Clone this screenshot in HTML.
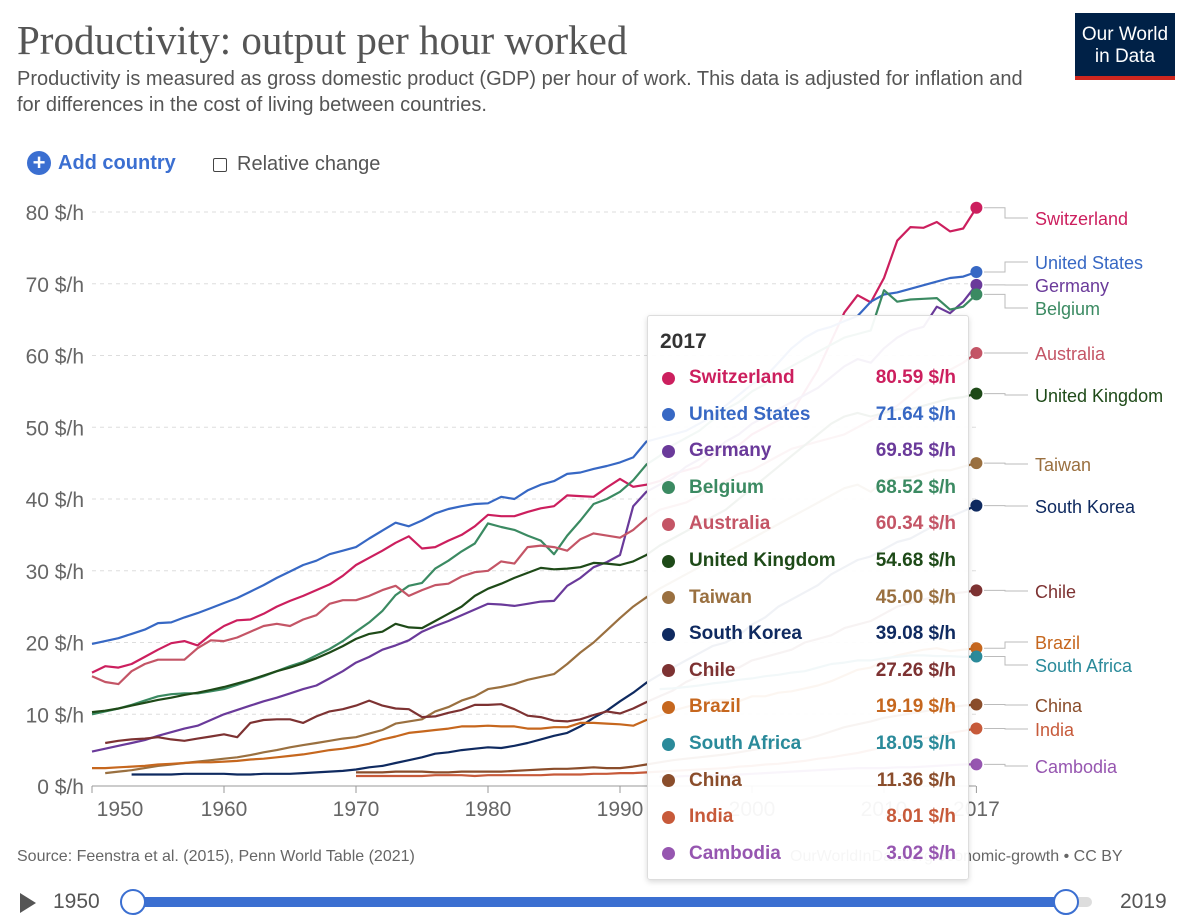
<!DOCTYPE html>
<html><head><meta charset="utf-8">
<style>
body{margin:0;width:1200px;height:917px;background:#fff;font-family:"Liberation Sans",sans-serif;overflow:hidden;position:relative}
.abs{position:absolute}
</style></head><body>
<div class="abs" style="left:17px;top:16px;font-family:'Liberation Serif',serif;font-size:41px;color:#555">Productivity: output per hour worked</div>
<div class="abs" style="left:17px;top:66px;font-size:20px;line-height:26px;color:#555;width:1010px">Productivity is measured as gross domestic product (GDP) per hour of work. This data is adjusted for inflation and for differences in the cost of living between countries.</div>
<div class="abs" style="left:1075px;top:13px;width:100px;height:67px;background:#002147;color:#fff;font-size:19px;text-align:center;line-height:22px;box-sizing:border-box;padding-top:11px;border-bottom:4px solid #ce261e">Our World<br>in Data</div>
<div class="abs" style="left:27px;top:151px;font-size:20px;font-weight:bold;color:#3b6fd1;display:flex;align-items:center"><span style="display:inline-block;width:24px;height:24px;border-radius:50%;background:#3b6fd1;color:#fff;text-align:center;line-height:24px;font-size:22px;margin-right:7px">+</span>Add country</div>
<div class="abs" style="left:213px;top:153px;font-size:20px;color:#555;display:flex;align-items:center"><span style="display:inline-block;width:12px;height:12px;border:1.5px solid #444;border-radius:2px;margin-right:10px"></span>Relative change</div>
<svg id="chart" class="abs" style="left:0;top:0" width="1200" height="917"></svg>
<div class="abs" style="left:17px;top:848px;font-size:16px;color:#666">Source: Feenstra et al. (2015), Penn World Table (2021)</div>
<div class="abs" style="left:790px;top:848px;font-size:16px;color:#666;white-space:nowrap">OurWorldInData.org/economic-growth • CC BY</div>
<div id="tip" class="abs" style="left:647px;top:315px;width:320px;height:563px;background:rgba(255,255,255,0.94);border:1px solid #ddd;border-radius:3px;box-shadow:0 2px 6px rgba(0,0,0,.15)">
<div style="position:absolute;left:12px;top:14px;font-size:21px;font-weight:bold;color:#333">2017</div>
</div>
<div class="abs" style="left:20px;top:893px;width:0;height:0;border-left:16px solid #555;border-top:10px solid transparent;border-bottom:10px solid transparent"></div>
<div class="abs" style="left:53px;top:890px;font-size:21px;color:#555">1950</div>
<div class="abs" style="left:132px;top:897px;width:960px;height:10px;background:#ddd;border-radius:5px"></div>
<div class="abs" style="left:132px;top:897px;width:933px;height:10px;background:#3b6fd1"></div>
<div class="abs" style="left:120px;top:889px;width:22px;height:22px;border-radius:50%;background:#fff;border:2px solid #3b6fd1"></div>
<div class="abs" style="left:1053px;top:889px;width:22px;height:22px;border-radius:50%;background:#fff;border:2px solid #3b6fd1"></div>
<div class="abs" style="left:1120px;top:890px;font-size:21px;color:#555">2019</div>
<script>
const countries=["Switzerland","United States","Germany","Belgium","Australia","United Kingdom","Taiwan","South Korea","Chile","Brazil","South Africa","China","India","Cambodia"];
const colors=["#cc1f5e","#3768c4","#6a3a9a","#3b8a62","#c45566","#1e4a18","#9a7040","#0f2a60","#7d3232","#c6671e","#2a8a9a","#8a4d2b","#c75a3a","#9656b0"];
const startYears=[1950,1950,1950,1950,1950,1950,1951,1953,1951,1950,1993,1970,1970,1993];
const switzerland=[15.8,16.7,16.5,17,18,19,19.9,20.2,19.6,21.1,22.3,23.1,23.2,24,25,25.8,26.5,27.3,28.1,29.3,30.8,31.8,32.8,33.9,34.8,33.1,33.3,34.2,35,36.2,37.8,37.6,37.6,38.2,38.7,39,40.5,40.4,40.3,41.6,42.8,41.7,42,42.5,43.5,44,44.5,46,47,47.5,49,50,51,52,55,58,62,66,68.4,67.4,70.8,76,77.9,77.8,78.6,77.3,77.7,80.59];
const unitedStates=[19.8,20.2,20.6,21.2,21.8,22.7,22.8,23.5,24.1,24.8,25.5,26.2,27.1,28,29,29.9,30.8,31.4,32.3,32.8,33.3,34.5,35.6,36.7,36.2,37,38,38.6,39,39.3,39.4,40.3,40,41.2,42,42.5,43.5,43.7,44.2,44.6,45.1,45.8,48,48.5,49,49.5,50.5,51.5,53,54.5,56,57,59,61,62.5,63.5,64,64.8,65.5,67.5,68.5,68.8,69.3,69.8,70.3,70.8,71,71.64];
const germany=[4.8,5.2,5.6,6,6.4,7,7.5,8,8.4,9.2,10,10.6,11.2,11.8,12.3,12.9,13.5,14,15,16,17.2,18,19,19.6,20.3,21.5,22.3,23,23.8,24.6,25.4,25.3,25.1,25.4,25.7,25.8,27.9,29,30.5,31.2,32.2,39,41,42,43,44.5,45.5,46.5,48,49,50.5,51.5,52.5,53.5,54.5,55.5,57,58.5,59.5,59,61,62.5,63.5,64,66.8,65.9,67.5,69.85];
const belgium=[10,10.4,10.8,11.3,11.9,12.5,12.8,12.9,12.9,13.2,13.5,14.1,14.7,15.3,16,16.7,17.3,18.2,19.1,20.2,21.5,22.8,24.4,26.6,27.9,28.3,30.3,31.4,32.7,33.8,36.6,36.1,35.7,34.9,34.2,32.3,34.9,37,39.3,40,41,42.6,44.8,46,47.5,48.5,49.5,51,52.5,53.5,55,56,57.5,58.5,59.5,60.5,61.5,62.5,63,63.5,69.1,67.5,67.8,67.9,68,66.4,66.8,68.52];
const australia=[15.3,14.5,14.2,16,17,17.6,17.6,17.6,19.2,20.3,20.2,20.7,21.5,22.3,22.6,22.3,23.2,23.8,25.4,25.9,25.9,26.5,27.3,27.9,26.5,27.3,28,28.2,29.2,29.8,30,31.3,31,33.3,33.5,33.3,32.8,34.4,35.2,34.9,34.6,35.7,37.3,38.5,39,39.5,40.5,41.5,42.5,43.5,44,45,46,47,47.5,48,48.5,49,50,51,52,53,54.5,56,57,58,59,60.34];
const unitedKingdom=[10.3,10.5,10.8,11.2,11.6,12,12.3,12.7,13,13.4,13.8,14.3,14.8,15.4,16,16.5,17.1,17.8,18.6,19.5,20.5,21.2,21.5,22.6,22.1,22,23,24,25,26.5,27.5,28.2,29,29.7,30.4,30.2,30.3,30.5,31.1,31,30.8,31.3,32.2,33.5,34.5,35.5,36.5,37.5,38.5,40,41.5,43,44.5,46,47.5,49,50.5,51.5,52,51.5,52,52.5,52.5,53,53.5,54,54.2,54.68];
const taiwan=[1.8,2,2.2,2.5,2.8,3,3.2,3.4,3.6,3.8,4,4.3,4.7,5,5.4,5.7,6,6.3,6.6,6.8,7.3,7.8,8.7,9,9.3,10.4,11,11.9,12.5,13.5,13.8,14.2,14.8,15.2,15.6,17,18.6,20,21.7,23.4,25,26.3,27.5,28.5,29.5,30.5,31.5,32.5,33.5,34.5,35.5,36.5,37.5,38.5,39.5,40.5,41.5,42,41,42.5,43,43,43.5,44,44,44.5,45];
const southKorea=[1.6,1.6,1.6,1.6,1.7,1.7,1.7,1.7,1.6,1.6,1.7,1.7,1.7,1.8,1.9,2,2.1,2.3,2.6,2.8,3.2,3.6,4,4.5,4.7,5,5.2,5.4,5.3,5.6,6,6.5,7,7.4,8.3,9.5,10.5,11.8,13,14.4,15.5,16.5,17.5,18.5,19.5,20,21,22.5,23.5,25,26,27,28,29.5,30.5,31.5,32,33,34,34.5,35.5,36.5,37.5,38.3,39.08];
const chile=[6,6.3,6.5,6.6,6.8,6.5,6.3,6.6,6.9,7.2,6.8,8.8,9.2,9.3,9.3,8.8,9.7,10.4,10.7,11.2,11.9,11.2,10.8,10.7,9.6,9.7,10.2,10.6,11.3,11.3,11.4,10.7,9.8,9.6,9.1,9,9.3,9.9,10.4,10.1,10.8,11.7,12.5,13.3,14.5,15.3,16,16.5,16.5,17.5,18,18.5,19,20,20.5,21,22,22.5,23,24,25,25.5,26,26.5,26.8,27,27.26];
const brazil=[2.5,2.5,2.6,2.7,2.8,3,3.1,3.2,3.3,3.3,3.4,3.5,3.7,3.8,4,4.2,4.4,4.7,5,5.2,5.5,5.9,6.5,6.9,7.4,7.6,7.8,8,8.3,8.3,8.4,8.3,8.3,8,8,8.2,8.2,8.8,8.8,8.7,8.6,8.4,9.2,9.8,10.5,11,11.5,12,12,11.8,12.5,12.5,13,13.2,13.6,14,14.6,15.4,16.2,16.5,17.5,18.2,18.6,19,19.2,18.8,19,19.19];
const southAfrica=[13.5,13.6,13.8,14,14.3,14.5,14.8,15,15.3,15.5,15.8,16,16.5,17,17.2,17.5,17.5,17.8,18,18.2,18.2,18.1,18.1,18,18.05];
const china=[1.9,1.9,1.9,2,2,2,1.9,1.9,2,2,2,2,2.1,2.2,2.3,2.4,2.4,2.5,2.6,2.5,2.5,2.7,3,3.3,3.6,3.8,4,4.2,4.4,4.7,5,5.3,5.7,6.1,6.5,7,7.6,8.2,8.6,9,9.5,9.8,10.1,10.4,10.7,11,11.2,11.36];
const india=[1.4,1.4,1.4,1.4,1.4,1.4,1.5,1.5,1.5,1.4,1.5,1.5,1.5,1.5,1.5,1.6,1.6,1.6,1.7,1.7,1.8,1.8,1.9,2,2.1,2.2,2.3,2.4,2.5,2.7,2.8,3,3.1,3.3,3.5,3.8,4,4.3,4.6,5,5.4,5.8,6.2,6.6,7,7.4,7.7,8.01];
const cambodia=[1.3,1.3,1.4,1.4,1.5,1.5,1.6,1.7,1.8,1.9,2,2.1,2.2,2.3,2.4,2.5,2.5,2.5,2.6,2.6,2.7,2.8,2.9,3,3.02];
const series=[switzerland,unitedStates,germany,belgium,australia,unitedKingdom,taiwan,southKorea,chile,brazil,southAfrica,china,india,cambodia];
const yTicks=[0,10,20,30,40,50,60,70,80];
const xTicks=[1950,1960,1970,1980,1990,2000,2010,2017];
const labelY=[218,262,285,308,353,395,464,506,591,642,665,705,729,766];

const NS="http://www.w3.org/2000/svg";
const svg=document.getElementById('chart');
const X=y=>92+(y-1950)*13.2;
const Y=v=>786-v*7.175;
function mk(t,a,p){const e=document.createElementNS(NS,t);for(const k in a)e.setAttribute(k,a[k]);(p||svg).appendChild(e);return e;}
yTicks.forEach(v=>{
  const g=mk('line',{x1:92,x2:976,y1:Y(v),y2:Y(v),stroke:v?'#ddd':'#999','stroke-dasharray':v?'4,4':''});
  
  
  const t=mk('text',{x:84,y:Y(v)+8,'text-anchor':'end','font-size':21,fill:'#666','font-family':'Liberation Sans'});
  t.textContent=v+' $/h';
  
  
});
xTicks.forEach(yr=>{
  const tk=mk('line',{x1:X(yr),x2:X(yr),y1:786,y2:793,stroke:'#999'});
  
  
  const t=mk('text',{x:yr===1950?X(yr)+28:X(yr),y:816,'text-anchor':'middle','font-size':21,fill:'#666','font-family':'Liberation Sans'});
  t.textContent=yr;
  
  
});
series.forEach((s,i)=>{
  const d=s.map((v,j)=>(j?'L':'M')+X(startYears[i]+j).toFixed(1)+','+Y(v).toFixed(1)).join('');
  const p=mk('path',{d:d,fill:'none',stroke:colors[i],'stroke-width':2.2,'stroke-linejoin':'round'});
  
  
});
series.forEach((s,i)=>{
  const v=s[s.length-1];
  const cy=Y(v), ly=labelY[i];
  const c=mk('path',{d:`M984,${cy}H1005V${ly}H1028`,fill:'none',stroke:'#bbb','stroke-width':1});
  
  
  const dot=mk('circle',{cx:X(2017),cy:cy,r:6,fill:colors[i]});
  
  
  const t=mk('text',{x:1035,y:ly+7,'font-size':18,fill:colors[i],'font-family':'Liberation Sans'});
  t.textContent=countries[i];
  
  
});
const tip=document.getElementById('tip');
series.forEach((s,i)=>{
  const v=s[s.length-1];
  const row=document.createElement('div');
  
  
  row.style.cssText=`position:absolute;left:12px;right:12px;top:${50+i*36.6}px;height:24px;font-size:19px;font-weight:bold;color:${colors[i]};display:flex;align-items:center`;
  row.innerHTML=`<span style="width:13px;height:13px;border-radius:50%;background:${colors[i]};margin-right:14px;margin-left:2px"></span><span style="flex:1">${countries[i]}</span><span>${v.toFixed(2)} $/h</span>`;
  tip.appendChild(row);
});
</script>
</body></html>
